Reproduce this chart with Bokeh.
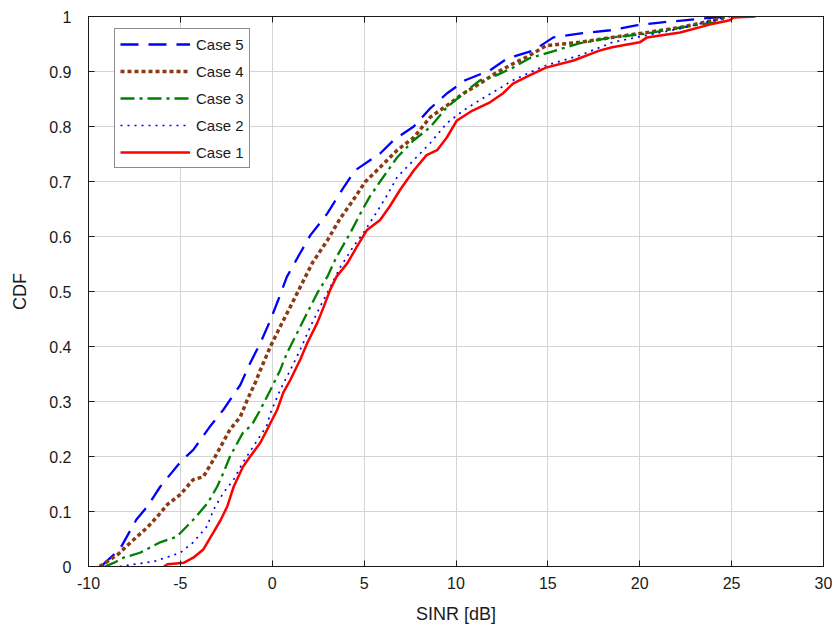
from bokeh.plotting import figure
from bokeh.models import FixedTicker, LinearAxis, Legend, LegendItem, Range1d
from bokeh.embed import file_html
from bokeh.resources import INLINE

# ---- data ----
x_ticks = [-10, -5, 0, 5, 10, 15, 20, 25, 30]
x_tick_labels = ["-10", "-5", "0", "5", "10", "15", "20", "25", "30"]
y_ticks = [0, 0.1, 0.2, 0.3, 0.4, 0.5, 0.6, 0.7, 0.8, 0.9, 1]
y_tick_labels = ["0", "0.1", "0.2", "0.3", "0.4", "0.5", "0.6", "0.7", "0.8", "0.9", "1"]

case5_x = [-9.3, -9.1, -8.3, -7.4, -6.8, -6.1, -5.0, -4.3, -3.4, -2.66, -1.74, -1.2, -0.65, -0.1, 0.33,
           0.8, 1.52, 2.07, 3.0, 3.86, 4.5, 5.87, 6.6, 7.7, 8.6, 9.5, 10.5, 11.85, 12.8, 14.2, 15.3,
           16.7, 18.4, 19.8, 21.1, 22.7, 24.0, 25.0]
case5_y = [0.0, 0.007, 0.031, 0.085, 0.109, 0.145, 0.19, 0.212, 0.254, 0.285, 0.33, 0.37, 0.406, 0.448, 0.485,
           0.527, 0.57, 0.602, 0.642, 0.688, 0.72, 0.751, 0.775, 0.80, 0.833, 0.86, 0.884, 0.902, 0.924, 0.938, 0.962,
           0.969, 0.975, 0.984, 0.989, 0.994, 0.998, 1.0]

case4_x = [-9.4, -9.2, -8.4, -7.7, -6.8, -6.25, -5.7, -5.0, -4.3, -3.75, -3.2, -2.3, -1.74, -1.36, -0.9,
           -0.65, -0.1, 0.43, 0.98, 1.52, 2.2, 3.0, 3.7, 4.4, 5.05, 5.87, 6.8, 7.7, 8.6, 9.5, 10.4,
           11.3, 12.2, 13.1, 14.0, 14.9, 16.7, 18.5, 20.4, 22.2, 24.0, 24.7]
case4_y = [0.0, 0.004, 0.022, 0.044, 0.071, 0.091, 0.113, 0.131, 0.158, 0.163, 0.194, 0.249, 0.272, 0.303, 0.336,
           0.357, 0.4, 0.436, 0.472, 0.508, 0.553, 0.593, 0.633, 0.666, 0.699, 0.726, 0.757, 0.78, 0.817, 0.838, 0.86,
           0.878, 0.898, 0.914, 0.929, 0.947, 0.953, 0.962, 0.971, 0.98, 0.993, 1.0]

case3_x = [-9.1, -8.6, -8.1, -7.2, -6.1, -5.2, -4.3, -3.5, -3.0, -2.66, -2.3, -1.6, -1.1, -0.65, -0.1,
           0.43, 0.8, 1.36, 1.9, 2.45, 3.0, 3.5, 4.24, 4.8, 5.3, 5.87, 6.8, 7.7, 8.6, 9.5, 10.4,
           11.3, 12.2, 13.1, 14.0, 14.9, 15.8, 16.7, 18.5, 20.4, 22.2, 24.0, 24.9]
case3_y = [0.0, 0.007, 0.016, 0.025, 0.044, 0.054, 0.085, 0.116, 0.145, 0.17, 0.2, 0.243, 0.258, 0.285, 0.321,
           0.357, 0.388, 0.425, 0.461, 0.497, 0.527, 0.563, 0.606, 0.642, 0.672, 0.70, 0.744, 0.775, 0.799, 0.835, 0.86,
           0.884, 0.893, 0.907, 0.924, 0.933, 0.942, 0.951, 0.962, 0.969, 0.98, 0.989, 1.0]

case2_x = [-8.3, -7.9, -6.45, -5.0, -4.3, -3.55, -3.2, -2.66, -2.1, -1.6, -0.8, -0.3, -0.1, 0.43, 0.98,
           1.52, 2.07, 2.6, 3.15, 3.7, 4.4, 4.95, 5.7, 6.25, 6.8, 7.7, 8.6, 9.5, 10.4, 11.3, 12.2,
           13.1, 14.0, 14.9, 15.8, 16.7, 17.7, 18.5, 20.4, 22.2, 24.0, 24.7]
case2_y = [0.0, 0.002, 0.009, 0.025, 0.044, 0.073, 0.103, 0.134, 0.158, 0.189, 0.23, 0.256, 0.279, 0.321, 0.357,
           0.394, 0.436, 0.472, 0.508, 0.544, 0.581, 0.606, 0.645, 0.675, 0.708, 0.739, 0.77, 0.806, 0.829, 0.848, 0.866,
           0.884, 0.898, 0.911, 0.92, 0.929, 0.942, 0.953, 0.966, 0.978, 0.993, 1.0]

case1_x = [-5.9, -5.7, -4.8, -4.3, -3.75, -3.2, -2.8, -2.45, -2.1, -1.6, -1.2, -0.65, -0.2, 0.27, 0.6,
           0.98, 1.52, 1.9, 2.45, 2.8, 3.15, 3.5, 4.1, 4.6, 5.16, 5.87, 6.4, 6.96, 7.7, 8.4, 8.97,
           9.5, 10.05, 10.9, 11.85, 12.55, 13.1, 14.0, 14.9, 16.4, 17.8, 18.5, 20.0, 20.4, 22.2, 24.0,
           24.9, 25.1, 26.3]
case1_y = [0.0, 0.004, 0.007, 0.016, 0.031, 0.062, 0.085, 0.109, 0.145, 0.181, 0.2, 0.225, 0.254, 0.285, 0.316,
           0.339, 0.376, 0.406, 0.443, 0.472, 0.503, 0.527, 0.552, 0.581, 0.612, 0.63, 0.655, 0.685, 0.72, 0.748, 0.757,
           0.78, 0.811, 0.829, 0.844, 0.86, 0.878, 0.893, 0.907, 0.92, 0.938, 0.944, 0.953, 0.962, 0.971, 0.987,
           0.993, 0.998, 1.0]

series = [
    ("Case 5", case5_x, case5_y, "#0000FF", 2.3, "18 10"),
    ("Case 4", case4_x, case4_y, "#8B3A14", 3.5, "4 3"),
    ("Case 3", case3_x, case3_y, "#008000", 2.3, "14 5 3 5"),
    ("Case 2", case2_x, case2_y, "#0000FF", 1.7, "2 5"),
    ("Case 1", case1_x, case1_y, "#FF0000", 2.5, "solid"),
]

FONT = "Liberation Sans"

p = figure(width=832, height=626, output_backend="svg", toolbar_location=None,
           x_range=Range1d(-10, 30), y_range=Range1d(0, 1),
           min_border_left=88, min_border_right=9, min_border_top=16, min_border_bottom=59)
p.background_fill_color = "white"
p.border_fill_color = "white"
p.outline_line_color = "#1a1a1a"
p.outline_line_width = 1

for ax, ticks in ((p.xaxis[0], x_ticks), (p.yaxis[0], y_ticks)):
    ax.ticker = FixedTicker(ticks=ticks)
    ax.major_tick_in = 6
    ax.major_tick_out = 0
    ax.minor_tick_line_color = None
    ax.axis_line_color = "#1a1a1a"
    ax.major_tick_line_color = "#1a1a1a"
    ax.major_label_text_font = FONT
    ax.major_label_text_font_size = "16px"
    ax.major_label_text_color = "#1a1a1a"
    ax.axis_label_text_font = FONT
    ax.axis_label_text_font_size = "18px"
    ax.axis_label_text_font_style = "normal"
    ax.axis_label_text_color = "#1a1a1a"

p.xaxis[0].major_label_overrides = {t: s for t, s in zip(x_ticks, x_tick_labels)}
p.yaxis[0].major_label_overrides = {t: s for t, s in zip(y_ticks, y_tick_labels)}
p.xaxis[0].axis_label = "SINR [dB]"
p.yaxis[0].axis_label = "CDF"
p.xaxis[0].major_label_standoff = 10
p.xaxis[0].axis_label_standoff = 12
p.yaxis[0].major_label_standoff = 17
p.yaxis[0].axis_label_standoff = 16

# mirrored ticks on top and right (no labels)
for loc, ticks in (("above", x_ticks), ("right", y_ticks)):
    ax = LinearAxis(ticker=FixedTicker(ticks=ticks), major_tick_in=6, major_tick_out=0,
                    minor_tick_line_color=None, major_label_text_font_size="1px",
                    major_label_text_color=None,
                    major_label_overrides={t: "" for t in ticks},
                    major_label_standoff=0, axis_line_color="#1a1a1a",
                    major_tick_line_color="#1a1a1a")
    p.add_layout(ax, loc)

p.xgrid.ticker = FixedTicker(ticks=x_ticks)
p.ygrid.ticker = FixedTicker(ticks=y_ticks)
p.grid.grid_line_color = "#d4d4d4"
p.grid.grid_line_width = 1

items = []
for name, xs, ys, color, w, dash in series:
    r = p.line(xs, ys, line_color=color, line_width=w, line_dash=dash, line_cap="butt")
    items.append(LegendItem(label=name, renderers=[r]))

legend = Legend(items=items, location=(26, 398))
legend.label_text_font = FONT
legend.label_text_font_size = "15px"
legend.label_text_color = "#1a1a1a"
legend.glyph_width = 70
legend.glyph_height = 20
legend.label_height = 20
legend.spacing = 7
legend.padding = 5
legend.label_standoff = 6
legend.border_line_color = "#1a1a1a"
legend.border_line_width = 1
legend.background_fill_alpha = 1
legend.margin = 0
p.add_layout(legend, "center")

open("out.html", "w").write(file_html(p, INLINE))
